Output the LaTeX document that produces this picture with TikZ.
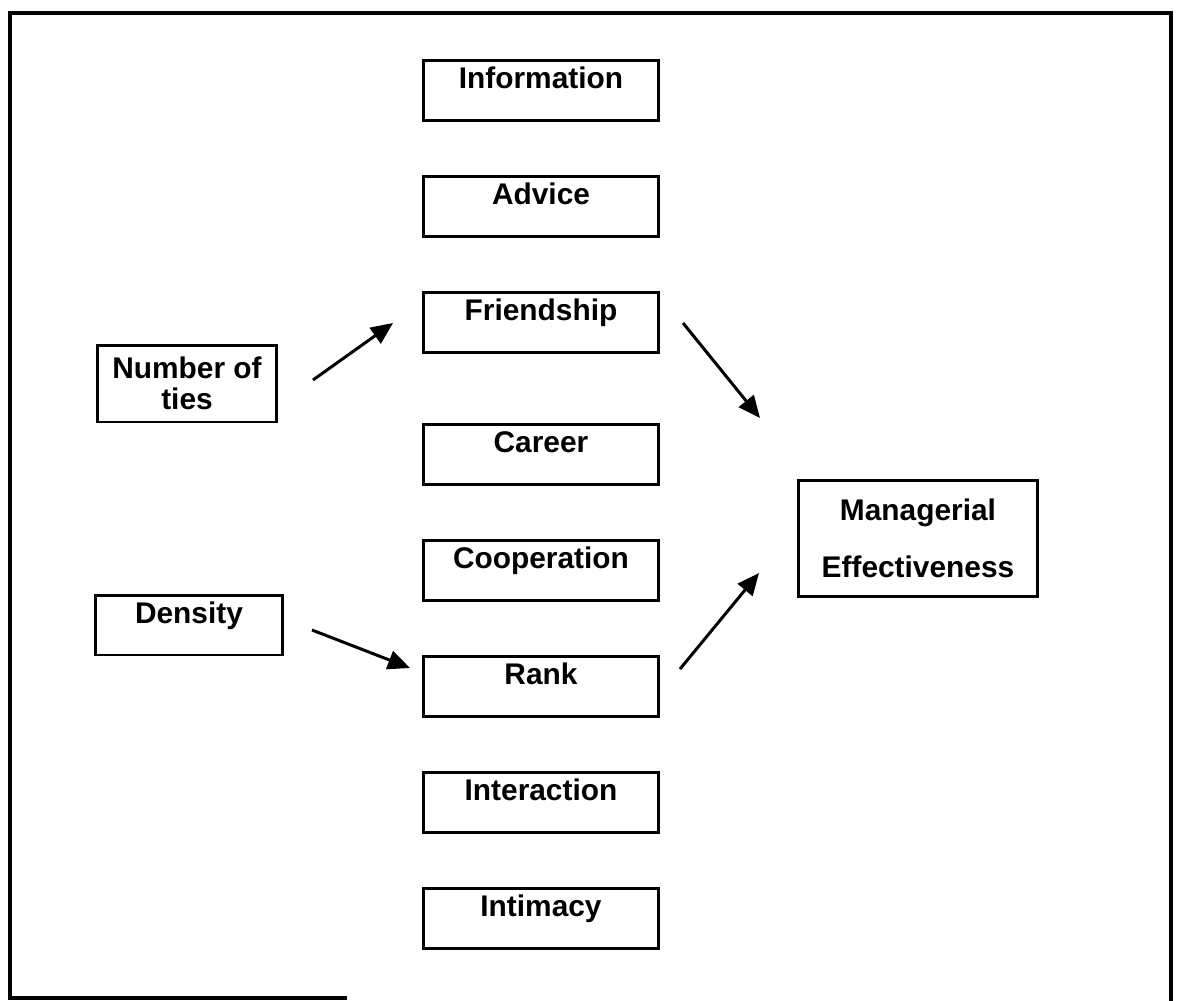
\documentclass[tikz,border=0pt]{standalone}
\usepackage{fontspec}
\setmainfont{Liberation Sans}
\usetikzlibrary{positioning,arrows.meta}

\begin{document}
\begin{tikzpicture}[x=0.02cm, y=-0.02cm]
	\tikzstyle{main}=[rectangle, draw=black, line width=1.7pt, inner sep=0pt, minimum width=4.7cm, text height=0.56cm, text depth=0.64cm, font=\fontsize{17}{20}\selectfont\bfseries, node distance=1.06cm]
	\tikzstyle{side}=[rectangle, draw=black, line width=1.7pt, inner sep=0pt, align=center, font=\fontsize{17}{18}\selectfont\bfseries]
	\tikzstyle{connect}=[line width=1.7pt, -{Triangle[length=0.44cm, width=0.38cm]}]
	\tikzstyle{frame}=[line width=2.2pt]
	\useasboundingbox (0,0) rectangle (1178,1001);
	\draw[frame] (347,998) -- (10,998) -- (10,13) -- (1171,13) -- (1171,1001);
	
	\node[main, anchor=north] (inf) at (541,59) {Information};
	\node[main]               (adv) [below=of inf]        {Advice};
	\node[main]               (fri) [below=of adv]        {Friendship};
	\node[main]               (car) [below=1.38cm of fri] {Career};
	\node[main]               (coo) [below=of car]        {Cooperation};
	\node[main]               (ran) [below=of coo]        {Rank};
	\node[main]               (int) [below=of ran]        {Interaction};
	\node[main]               (inm) [below=of int]        {Intimacy};
	
	\node[side, minimum width=3.6cm, minimum height=1.54cm] (tie) at (187,383.5) {Number of\\ties};
	\node[main, minimum width=3.76cm]                       (den) at (189,625)   {Density};
	\node[side, minimum width=4.8cm, minimum height=2.34cm] (eff) at (918,538.5) {Managerial\\[0.52cm]Effectiveness};
	
	\coordinate (t1) at (313,380);
	\coordinate (t2) at (393,323);
	\coordinate (f1) at (683,323);
	\coordinate (f2) at (760,418);
	\coordinate (d1) at (312,630);
	\coordinate (d2) at (410,668);
	\coordinate (r1) at (680,669);
	\coordinate (r2) at (759,573);
	
	\path 
	(t1) edge [connect] (t2)
	(f1) edge [connect] (f2)
	(d1) edge [connect] (d2)
	(r1) edge [connect] (r2)
	;
	
\end{tikzpicture}
\end{document}
